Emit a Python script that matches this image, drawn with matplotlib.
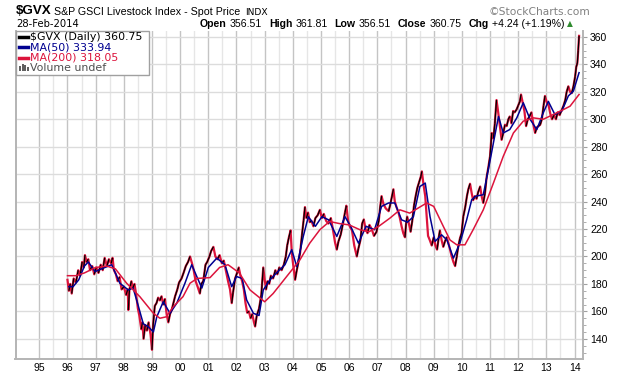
import matplotlib
matplotlib.use("Agg")
import numpy as np
import matplotlib.pyplot as plt
from matplotlib.collections import LineCollection
from matplotlib.patches import Rectangle

# $GVX daily close (decimal years)
price_t = [
    1996.00, 1996.05, 1996.10, 1996.15, 1996.22, 1996.30, 1996.38, 1996.45, 1996.52, 1996.58, 1996.62, 1996.68, 1996.74, 1996.80, 1996.88, 1996.95,
    1997.02, 1997.10, 1997.18, 1997.25, 1997.32, 1997.40, 1997.47, 1997.55, 1997.60, 1997.65, 1997.72, 1997.78, 1997.85, 1997.92,
    1998.00, 1998.08, 1998.14, 1998.16, 1998.20, 1998.27, 1998.32, 1998.38, 1998.44, 1998.50, 1998.55, 1998.62, 1998.66, 1998.70, 1998.76, 1998.82, 1998.88, 1998.95,
    1999.00, 1999.04, 1999.10, 1999.16, 1999.22, 1999.28, 1999.34, 1999.40, 1999.46, 1999.52, 1999.58, 1999.64, 1999.70, 1999.76, 1999.82, 1999.90, 1999.96,
    2000.05, 2000.12, 2000.20, 2000.28, 2000.35, 2000.42, 2000.48, 2000.55, 2000.62, 2000.70, 2000.75, 2000.82, 2000.90, 2000.96,
    2001.04, 2001.10, 2001.18, 2001.25, 2001.32, 2001.40, 2001.48, 2001.55, 2001.62, 2001.70, 2001.77, 2001.83, 2001.88, 2001.95,
    2002.02, 2002.08, 2002.14, 2002.20, 2002.26, 2002.32, 2002.38, 2002.44, 2002.50, 2002.56, 2002.62, 2002.66, 2002.72, 2002.80, 2002.88, 2002.95,
    2003.00, 2003.05, 2003.10, 2003.16, 2003.22, 2003.30, 2003.38, 2003.45, 2003.52, 2003.60, 2003.68, 2003.75, 2003.80, 2003.86, 2003.92, 2003.96,
    2004.00, 2004.05, 2004.08, 2004.14, 2004.20, 2004.26, 2004.32, 2004.38, 2004.43, 2004.48, 2004.54, 2004.60, 2004.66, 2004.73, 2004.80, 2004.88, 2004.96,
    2005.03, 2005.10, 2005.18, 2005.26, 2005.35, 2005.42, 2005.50, 2005.56, 2005.62, 2005.70, 2005.78, 2005.85, 2005.90, 2005.96,
    2006.02, 2006.10, 2006.18, 2006.27, 2006.33, 2006.40, 2006.46, 2006.52, 2006.58, 2006.65, 2006.72, 2006.80, 2006.88, 2006.97,
    2007.05, 2007.10, 2007.15, 2007.22, 2007.30, 2007.40, 2007.46, 2007.52, 2007.57, 2007.62, 2007.68, 2007.75, 2007.80, 2007.86, 2007.92, 2007.98,
    2008.02, 2008.06, 2008.12, 2008.18, 2008.24, 2008.30, 2008.36, 2008.42, 2008.48, 2008.54, 2008.58, 2008.64, 2008.70, 2008.76, 2008.80, 2008.86, 2008.93,
    2009.00, 2009.06, 2009.12, 2009.18, 2009.22, 2009.28, 2009.34, 2009.40, 2009.46, 2009.52, 2009.58, 2009.64, 2009.70, 2009.76, 2009.82, 2009.87, 2009.93, 2009.99,
    2010.05, 2010.12, 2010.18, 2010.23, 2010.29, 2010.35, 2010.40, 2010.46, 2010.52, 2010.58, 2010.65, 2010.70, 2010.76, 2010.82, 2010.88, 2010.94,
    2011.00, 2011.06, 2011.12, 2011.17, 2011.23, 2011.29, 2011.35, 2011.41, 2011.47, 2011.53, 2011.59, 2011.65, 2011.70, 2011.76, 2011.82, 2011.87, 2011.94,
    2012.00, 2012.06, 2012.10, 2012.16, 2012.22, 2012.28, 2012.34, 2012.40, 2012.47, 2012.54, 2012.60, 2012.66, 2012.72, 2012.78, 2012.84, 2012.90, 2012.95,
    2013.02, 2013.08, 2013.14, 2013.20, 2013.27, 2013.34, 2013.40, 2013.47, 2013.55, 2013.61, 2013.67, 2013.72, 2013.78, 2013.84, 2013.90, 2013.96,
    2014.02, 2014.06, 2014.10, 2014.13, 2014.16,
]
price_v = [
    183, 175, 180, 173, 184, 181, 190, 186, 196, 192, 201, 196, 198, 190, 193, 187,
    192, 188, 194, 190, 199, 193, 198, 195, 199, 190, 187, 182, 185, 176,
    178, 172, 176, 161, 176, 182, 177, 180, 172, 162, 157, 147, 152, 140, 150, 146, 152, 143,
    132, 150, 164, 166, 170, 168, 171, 165, 169, 158, 152, 158, 161, 166, 171, 176, 181,
    184, 188, 193, 196, 200, 195, 190, 182, 178, 173, 180, 182, 194, 196,
    200, 204, 207, 200, 198, 201, 195, 197, 190, 182, 176, 166, 174, 184,
    188, 192, 186, 182, 176, 166, 159, 160, 155, 158, 152, 149, 157, 162, 172, 192,
    183, 176, 182, 180, 186, 184, 190, 187, 192, 190, 194, 200, 208, 214, 219, 204,
    196, 188, 183, 190, 196, 203, 215, 226, 236, 228, 232, 225, 226, 222, 228, 230, 234,
    228, 231, 226, 224, 228, 220, 210, 205, 211, 216, 224, 232, 237, 226,
    222, 219, 208, 200, 206, 212, 224, 227, 220, 217, 223, 220, 215, 218,
    226, 236, 244, 238, 235, 233, 238, 244, 249, 240, 236, 232, 228, 222, 217, 214,
    224, 229, 224, 218, 226, 237, 244, 250, 254, 258, 262, 252, 244, 226, 215, 212, 208,
    214, 208, 205, 214, 219, 212, 207, 211, 214, 210, 205, 200, 196, 193, 200, 207, 213, 217,
    229, 236, 244, 249, 253, 246, 241, 244, 242, 247, 251, 244, 239, 246, 258, 265,
    273, 290, 286, 297, 314, 305, 295, 285, 290, 296, 295, 300, 302, 297, 306, 305, 307,
    310, 313, 318, 312, 306, 295, 300, 302, 305, 296, 290, 294, 295, 296, 300, 310, 317,
    312, 310, 304, 300, 303, 300, 305, 303, 307, 310, 314, 320, 324, 320, 319, 324,
    331, 338, 341, 350, 360.75,
]
assert len(price_t) == len(price_v)

# MA(50)
ma50_t = [1996.05, 1996.20, 1996.40, 1996.60, 1996.74, 1996.98, 1997.27, 1997.57, 1997.86, 1998.16,
          1998.33, 1998.50, 1998.69, 1998.87, 1999.05, 1999.17, 1999.40, 1999.64, 1999.88, 2000.17,
          2000.41, 2000.59, 2000.77, 2001.00, 2001.30, 2001.59, 2001.83, 2002.00, 2002.20, 2002.36,
          2002.60, 2002.80, 2002.95, 2003.19, 2003.42, 2003.72, 2003.96, 2004.14, 2004.37, 2004.55,
          2004.80, 2005.03, 2005.27, 2005.56, 2005.85, 2006.05, 2006.33, 2006.60, 2006.90, 2007.15,
          2007.40, 2007.62, 2007.86, 2008.07, 2008.28, 2008.51, 2008.70, 2008.87, 2009.05, 2009.28,
          2009.47, 2009.70, 2009.93, 2010.17, 2010.35, 2010.50, 2010.76, 2010.94, 2011.12, 2011.30,
          2011.47, 2011.70, 2011.95, 2012.18, 2012.42, 2012.66, 2012.89, 2013.07, 2013.30, 2013.55,
          2013.78, 2013.96, 2014.16]
ma50_v = [178, 178, 183, 193, 196, 189, 191.5, 194, 180.5, 175.6,
          177, 165, 151, 148.8, 145, 156, 167, 158.6, 166, 180.5,
          194, 185.4, 177, 192, 198.8, 194, 178, 185.4, 184, 168.3,
          158.6, 157, 175.6, 183, 188, 194, 205, 192.6, 214.6, 229,
          222, 229, 226.7, 214.6, 229, 222, 209.7, 222, 219.5, 236.5,
          239, 239, 226.7, 225, 229, 251, 253.5, 229, 211, 215.8,
          212, 198.8, 209.7, 226.7, 241.4, 244, 245, 263.3, 282.8, 302,
          290, 292.5, 301, 312, 300, 292.5, 304.7, 313, 303.5, 306,
          317, 320.5, 333.94]

# MA(200)
ma200_t = [1996.00, 1996.30, 1996.60, 1997.00, 1997.40, 1997.70, 1998.10, 1998.57, 1999.05, 1999.28,
           1999.50, 1999.76, 2000.10, 2000.35, 2000.60, 2001.06, 2001.40, 2001.70, 2002.10, 2002.48,
           2003.00, 2003.30, 2003.78, 2004.25, 2004.60, 2004.96, 2005.30, 2005.65, 2006.00, 2006.38,
           2006.70, 2007.05, 2007.45, 2007.80, 2008.15, 2008.75, 2009.00, 2009.34, 2009.58, 2009.82,
           2010.11, 2010.40, 2010.76, 2011.12, 2011.47, 2011.83, 2012.18, 2012.54, 2012.89, 2013.25,
           2013.60, 2013.84, 2014.16]
ma200_v = [186, 186, 188, 192, 193, 191, 180.5, 170.7, 158.6, 155,
           156, 163.5, 170.7, 180.5, 184, 184.6, 192, 194, 188, 175.6,
           167, 173, 185.4, 197.5, 209.7, 219.5, 225.5, 224, 223, 219.5,
           218, 222, 228, 234, 231.6, 239, 236.5, 222, 212, 208.5,
           208.5, 219.5, 234, 253.5, 273, 290, 298.6, 301, 300, 303.5,
           307, 309.5, 318.05]

years = list(range(1995, 2015))
year_labels = ["95", "96", "97", "98", "99", "00", "01", "02", "03", "04",
               "05", "06", "07", "08", "09", "10", "11", "12", "13", "14"]
y_ticks = [140, 160, 180, 200, 220, 240, 260, 280, 300, 320, 340, 360]

RED = "#dc143c"
NAVY = "#000090"
W, H = 620, 376

fig = plt.figure(figsize=(6.2, 3.76), dpi=100)
ax = fig.add_axes([15.5 / W, 1 - 359 / H, (583 - 15.5) / W, (359 - 31) / H])

# grid
for y in years:
    ax.axvline(y, color="#c4c4c4", lw=1, zorder=0)
    ax.axvline(y + 0.5, color="#e6e6e6", lw=1, zorder=0)
for v in y_ticks:
    ax.axhline(v, color="#dcdcdc", lw=1, zorder=0)

# price: red line, with black over the rising stretches (up days)
ax.plot(price_t, price_v, color=RED, lw=1.6, zorder=2)
pts = np.column_stack([price_t, price_v])
segs = np.stack([pts[:-1], pts[1:]], axis=1)
up = np.diff(price_v) > 0
ax.add_collection(LineCollection(segs[up], colors="black", linewidths=0.9, zorder=2))

ax.plot(ma50_t, ma50_v, color=NAVY, lw=1.1, zorder=3)
ax.plot(ma200_t, ma200_v, color=RED, lw=1.1, zorder=3)

ax.set_xlim(1994.155, 2014.30)
ax.set_ylim(125.3, 364.3)

ax.set_xticks(years)
ax.set_xticklabels(year_labels)
ax.set_yticks(y_ticks)
ax.set_yticks(np.arange(130, 365, 5), minor=True)
ax.yaxis.tick_right()
ax.tick_params(axis="x", length=0, pad=3, labelsize=7.5)
ax.tick_params(axis="y", which="major", length=3, color="#a0a0a0", pad=2, labelsize=7.5)
ax.tick_params(axis="y", which="minor", length=2, color="#a0a0a0")
ax.tick_params(axis="x", which="minor", length=0)
for lab in ax.get_xticklabels() + ax.get_yticklabels():
    lab.set_fontfamily("Liberation Sans")

for s in ["left", "bottom", "right"]:
    ax.spines[s].set_color("#b4b4b4")
    ax.spines[s].set_linewidth(1.4)
ax.spines["top"].set_visible(False)

# header
def fx(x):
    return x / W

def fy(y):
    return 1 - y / H

fig.text(fx(16), fy(11), "$GVX", fontsize=9.6, fontweight="bold", family="Liberation Sans",
         va="center", parse_math=False)
fig.text(fx(54), fy(12), "S&P GSCI Livestock Index - Spot Price", fontsize=7.7,
         family="Liberation Sans", va="center")
fig.text(fx(245), fy(12.5), "INDX", fontsize=6.6, family="DejaVu Sans", va="center")
fig.text(fx(590), fy(12), "\u00a9StockCharts.com", fontsize=7.7, family="DejaVu Sans",
         color="#808080", va="center", ha="right")
fig.text(fx(16), fy(24), "28-Feb-2014", fontsize=7.2, family="DejaVu Sans", va="center")

r = fig.canvas.get_renderer()
row = [("Open", "bold", 3), ("356.51", "normal", 7), ("High", "bold", 3), ("361.81", "normal", 7),
       ("Low", "bold", 3), ("356.51", "normal", 7), ("Close", "bold", 3), ("360.75", "normal", 7),
       ("Chg", "bold", 3), ("+4.24 (+1.19%)", "normal", 3)]
x = 200
for s, wgt, gap in row:
    t = fig.text(fx(x), fy(24), s, fontsize=7.6, fontweight=wgt, family="Liberation Sans", va="center")
    x = t.get_window_extent(r).x1 + gap
fig.text(fx(x), fy(24), "\u25b2", fontsize=5.5, family="DejaVu Sans", color="#2e8b2e", va="center")

# legend box
fig.add_artist(Rectangle((fx(15.5), fy(75)), (149 - 15.5) / W, (75 - 31) / H,
                         transform=fig.transFigure, facecolor="white", edgecolor="#a0a0a0",
                         lw=1, zorder=4))
leg = [("$GVX (Daily) 360.75", "black"), ("MA(50) 333.94", NAVY), ("MA(200) 318.05", RED)]
for i, (s, c) in enumerate(leg):
    yy = 37 + i * 10.3
    fig.add_artist(plt.Line2D([fx(19), fx(28)], [fy(yy), fy(yy)], color=c, lw=2.5,
                              transform=fig.transFigure, zorder=5))
    fig.text(fx(30), fy(yy), s, fontsize=7.9, family="DejaVu Sans", color=c, va="center",
             zorder=5, parse_math=False)
yy = 37 + 3 * 10.3
for bx, bh in zip([19.5, 22, 24.5, 27], [5, 7, 6, 4]):
    fig.add_artist(Rectangle((fx(bx), fy(yy + 3.5)), 1.6 / W, bh / H, transform=fig.transFigure,
                             facecolor="#606060", edgecolor="none", zorder=5))
fig.text(fx(30), fy(yy), "Volume undef", fontsize=7.9, family="DejaVu Sans", color="#505050",
         va="center", zorder=5)

fig.savefig("out.png", dpi=100)
